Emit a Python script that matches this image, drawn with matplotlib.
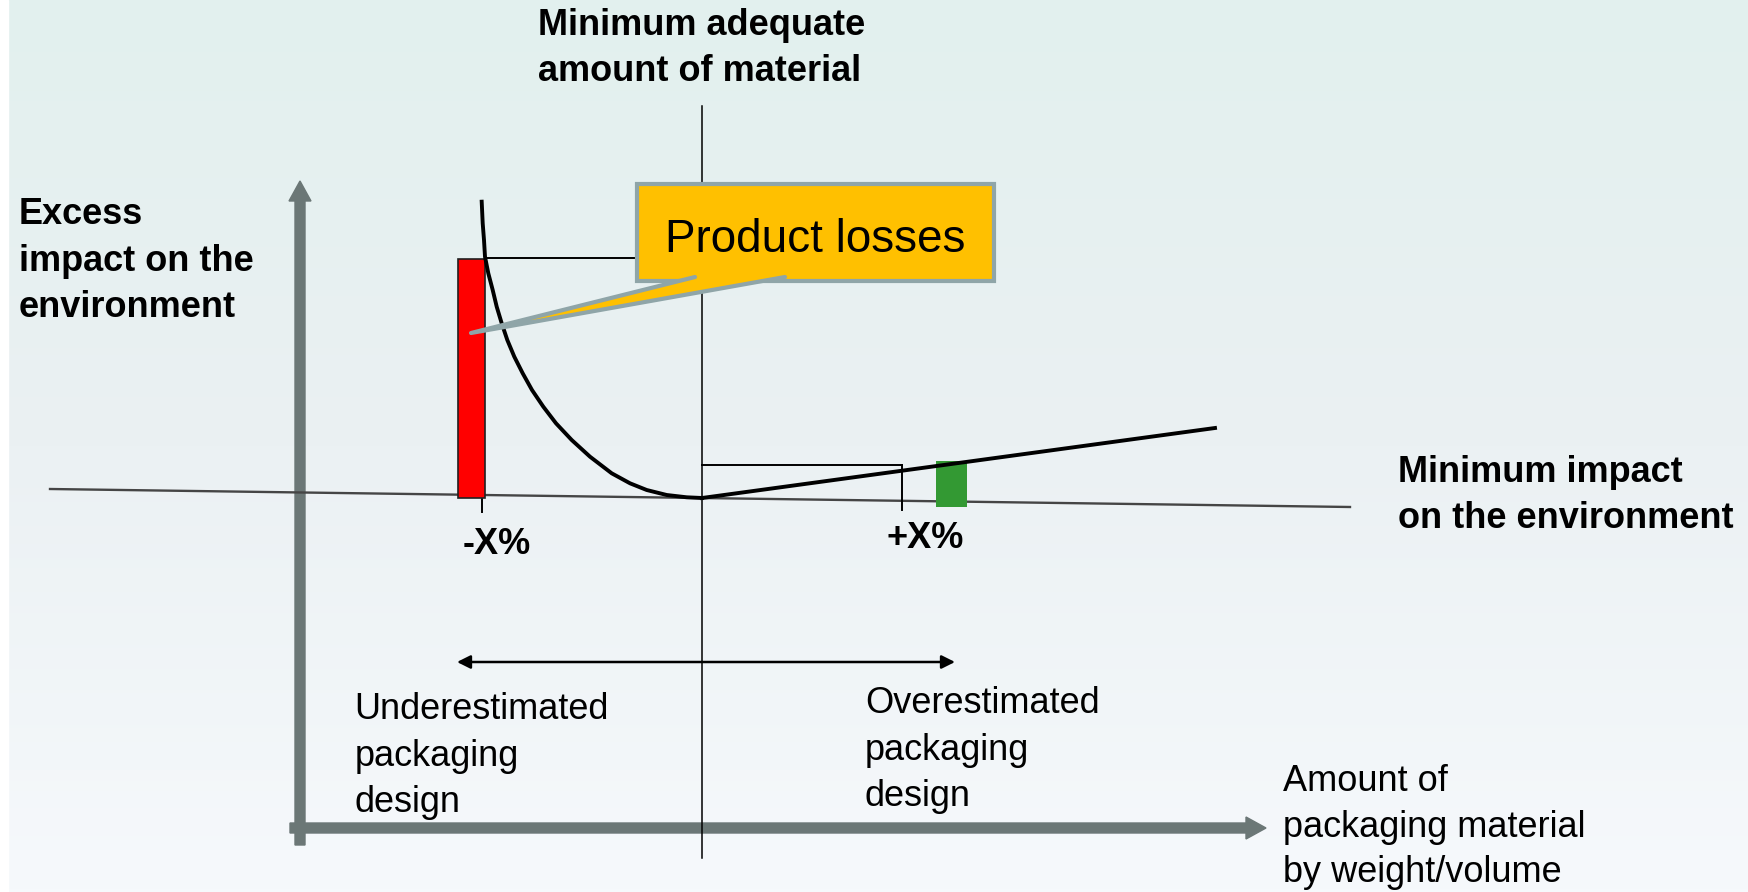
import numpy as np
import matplotlib
matplotlib.use("Agg")
import matplotlib.pyplot as plt
from matplotlib.patches import Rectangle, Polygon
from matplotlib.colors import LinearSegmentedColormap

# ---- data (x = material deviation, y = excess impact) ----
curve_x = [-22.03, -21.93, -21.8, -21.7, -21.37, -20.93, -20.53, -20.03, -19.47, -18.77,
           -17.93, -17.0, -15.87, -14.6, -13.03, -11.2, -9.03, -7.2, -5.53, -3.53, -1.53, 0.0]
curve_y = [29.63, 27.47, 25.8, 24.13, 22.47, 20.8, 19.13, 17.47, 15.8, 14.13,
           12.47, 10.8, 9.13, 7.47, 5.8, 4.13, 2.47, 1.47, 0.8, 0.3, 0.07, 0.0]
over_x = [0.0, 51.3]
over_y = [0.0, 7.0]
bar_labels = ["-X%", "+X%"]
bar_x = [-23.05, 24.95]
bar_width = [2.7, 3.1]
bar_bottom = [0.0, -0.9]
bar_height = [23.9, 4.6]
baseline_x = [-65.2, 64.8]
baseline_y = [0.9, -0.9]
under_level = 23.97
over_level = 3.3
over_tick_x = 20.0
under_tick_x = -22.0

plt.rcParams['font.family'] = ['Liberation Sans', 'DejaVu Sans']

fig = plt.figure(figsize=(17.48, 8.92), dpi=100)
ax = fig.add_axes([0, 0, 1, 1])
ax.set_xlim(-70.2, 104.6)
ax.set_ylim(-39.4, 49.8)
ax.axis('off')

# background gradient
cmap = LinearSegmentedColormap.from_list('bg', [(0, '#F6F9FC'), (0.5, '#EBF1F3'), (1, '#E2F0EE')])
grad = np.linspace(0, 1, 256).reshape(-1, 1)
ax.imshow(grad, extent=(-69.4, 104.6, -39.4, 49.8), origin='lower', cmap=cmap,
          aspect='auto', zorder=0)
ax.add_patch(Rectangle((-70.2, -39.4), 0.8, 89.2, color='white', zorder=0.5))

gray = '#6B7776'
# axes arrows
ax.arrow(-40.2, -34.7, 0, 66.4, width=1.0, head_width=2.2, head_length=2.0,
         length_includes_head=True, color=gray, zorder=2)
ax.arrow(-41.2, -33.0, 97.6, 0, width=1.0, head_width=2.2, head_length=2.0,
         length_includes_head=True, color=gray, zorder=2)

# baseline and centre line
ax.plot(baseline_x, baseline_y, color='#454545', lw=1.7, zorder=3)
ax.plot([0, 0], [39.2, -36.0], color='black', lw=1.1, zorder=3)

# bars
ax.bar(bar_x[0], bar_height[0], width=bar_width[0], bottom=bar_bottom[0],
       color='#FF0000', edgecolor='#202020', lw=1.2, zorder=4)
ax.bar(bar_x[1], bar_height[1], width=bar_width[1], bottom=bar_bottom[1],
       color='#339933', lw=0, zorder=4)

# reference lines
ax.plot([bar_x[0] + bar_width[0] / 2, -6.5], [under_level, under_level], color='black', lw=1.4, zorder=3)
ax.plot([0, over_tick_x], [over_level, over_level], color='black', lw=1.4, zorder=3)
ax.plot([over_tick_x, over_tick_x], [over_level, -1.2], color='black', lw=1.4, zorder=3)
ax.plot([under_tick_x, under_tick_x], [0, -1.4], color='black', lw=1.4, zorder=3)

# curves
ax.plot(curve_x, curve_y, color='black', lw=2.8, zorder=5, solid_joinstyle='round')
ax.plot(over_x, over_y, color='black', lw=2.8, zorder=5)

# callout
ax.add_patch(Rectangle((-6.5, 21.7), 35.7, 9.7, facecolor='#FFC000',
                       edgecolor='#8FA5A8', lw=3.0, zorder=6))
ax.add_patch(Polygon([(-0.7, 22.1), (-23.1, 16.5), (8.3, 22.1)], closed=False,
                     facecolor='#FFC000', edgecolor='#8FA5A8', lw=3.0, zorder=7,
                     joinstyle='round', capstyle='round'))
ax.text(11.35, 24.6, "Product losses", fontsize=33, ha='center', va='baseline', zorder=8)

# double arrow
ax.annotate('', xy=(-24.5, -16.4), xytext=(25.3, -16.4),
            arrowprops=dict(arrowstyle='<|-|>', color='black', lw=1.8,
                            mutation_scale=20, shrinkA=0, shrinkB=0), zorder=5)

fs = 26
ls = 1.42
# multi-line texts are anchored at the baseline of their last line
ax.text(-16.4, 41.7, "Minimum adequate\namount of material", fontsize=fs, fontweight='bold',
        ha='left', va='baseline', linespacing=ls)
ax.text(-68.3, 18.1, "Excess\nimpact on the\nenvironment", fontsize=fs, fontweight='bold',
        ha='left', va='baseline', linespacing=ls)
ax.text(69.6, -3.0, "Minimum impact\non the environment", fontsize=fs, fontweight='bold',
        ha='left', va='baseline', linespacing=ls)
ax.text(58.1, -38.4, "Amount of\npackaging material\nby weight/volume", fontsize=fs,
        ha='left', va='baseline', linespacing=1.38)
ax.text(-34.75, -31.4, "Underestimated\npackaging\ndesign", fontsize=fs,
        ha='left', va='baseline', linespacing=ls)
ax.text(16.3, -30.8, "Overestimated\npackaging\ndesign", fontsize=fs,
        ha='left', va='baseline', linespacing=ls)
ax.text(-23.9, -5.6, bar_labels[0], fontsize=fs, fontweight='bold', ha='left', va='baseline')
ax.text(18.5, -5.0, bar_labels[1], fontsize=fs, fontweight='bold', ha='left', va='baseline')

fig.savefig('out.png', dpi=100)
